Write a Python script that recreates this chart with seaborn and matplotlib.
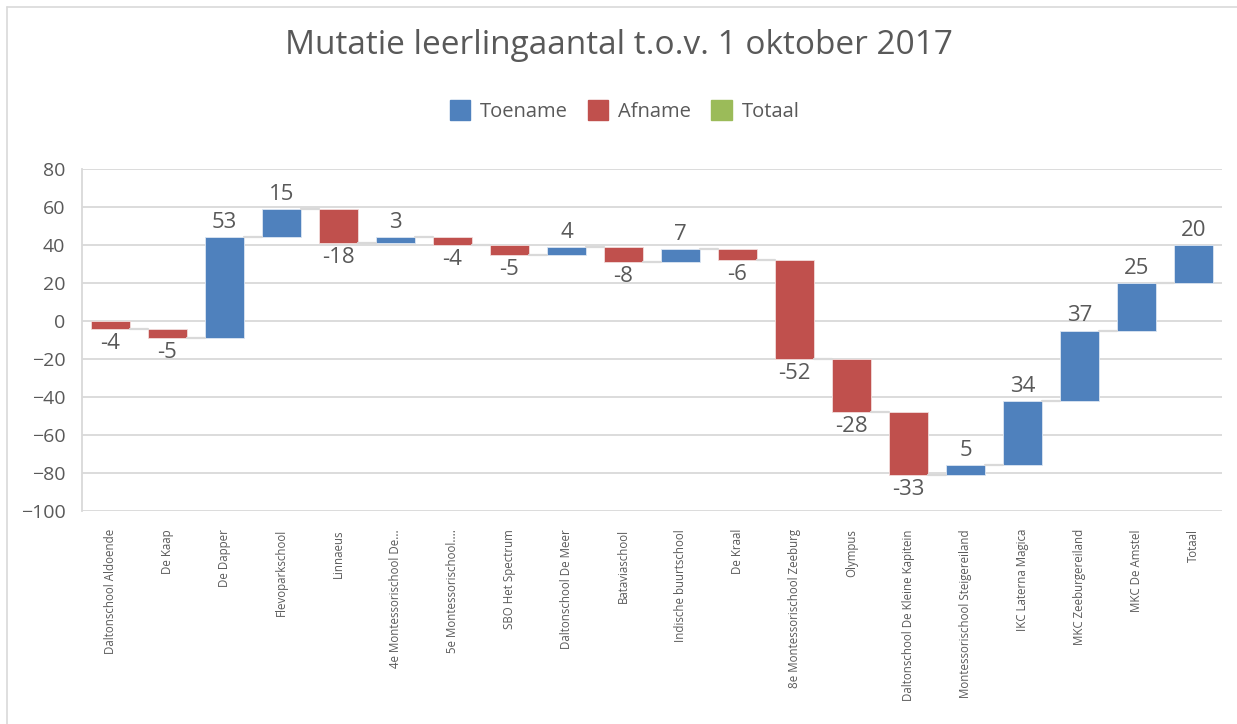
import numpy as np
import pandas as pd
import seaborn as sns
import matplotlib.pyplot as plt
from matplotlib.patches import Patch
from matplotlib.lines import Line2D

sns.set_style('white')
plt.rcParams['font.family'] = ['Open Sans', 'DejaVu Sans']

# DATA
schools = ['Daltonschool Aldoende', 'De Kaap', 'De Dapper', 'Flevoparkschool', 'Linnaeus',
           '4e Montessorischool De...', '5e Montessorischool....', 'SBO Het Spectrum',
           'Daltonschool De Meer', 'Bataviaschool', 'Indische buurtschool', 'De Kraal',
           '8e Montessorischool Zeeburg', 'Olympus', 'Daltonschool De Kleine Kapitein',
           'Montessorischool Steigereiland', 'IKC Laterna Magica', 'MKC Zeeburgereiland',
           'MKC De Amstel', 'Totaal']
mutatie = [-4, -5, 53, 15, -18, 3, -4, -5, 4, -8, 7, -6, -52, -28, -33, 5, 34, 37, 25, 20]
legend_labels = ['Toename', 'Afname', 'Totaal']

BLUE = '#4F81BD'
RED = '#C0504D'
GREEN = '#9BBB59'
TXT = '#595959'
GRID = '#D9D9D9'
BAR_W = 0.67

# running totals -> floating bars
df = pd.DataFrame({'school': schools, 'delta': mutatie})
df['end'] = df['delta'].cumsum()
df['start'] = df['end'] - df['delta']
df['low'] = df[['start', 'end']].min(axis=1)
df['height'] = df['delta'].abs()

fig = plt.figure(figsize=(12.37, 7.24), dpi=100)
ax = fig.add_axes([82 / 1237, 213 / 724, 1140 / 1237, 342 / 724])

up = df[df['delta'] > 0]
down = df[df['delta'] < 0]
sns.barplot(x=up['school'], y=up['height'], order=schools, bottom=up['low'].values,
            color=BLUE, width=BAR_W, saturation=1, edgecolor='#DCE6F2', linewidth=0.6, ax=ax)
sns.barplot(x=down['school'], y=down['height'], order=schools, bottom=down['low'].values,
            color=RED, width=BAR_W, saturation=1, edgecolor='#F2DCDB', linewidth=0.6, ax=ax)

# connector lines between bars
for i in range(len(df) - 1):
    ax.plot([i + BAR_W / 2, i + 1 - BAR_W / 2], [df['end'][i], df['end'][i]],
            color=GRID, lw=1.6, zorder=1)

# data labels
for i, row in df.iterrows():
    if row['delta'] > 0:
        ax.annotate(str(row['delta']), (i, row['low'] + row['height']), xytext=(0, 3),
                    textcoords='offset points', ha='center', va='bottom', fontsize=16, color=TXT)
    else:
        ax.annotate(str(row['delta']), (i, row['low']), xytext=(0, -3),
                    textcoords='offset points', ha='center', va='top', fontsize=16, color=TXT)

ax.set_ylim(-100, 80)
ax.set_xlim(-0.5, len(schools) - 0.5)
ax.set_yticks(np.arange(-100, 81, 20))
ax.yaxis.grid(True, color=GRID, lw=1.3)
ax.set_axisbelow(True)
ax.tick_params(axis='y', length=0, labelsize=14, labelcolor=TXT, pad=12)
ax.tick_params(axis='x', length=0, labelsize=8.3, labelcolor=TXT, pad=13)
ax.set_xticks(range(len(schools)))
ax.set_xticklabels(schools, rotation=90, va='top')
ax.set_xlabel('')
ax.set_ylabel('')
for s in ['top', 'right', 'bottom']:
    ax.spines[s].set_visible(False)
ax.spines['left'].set_color(GRID)
ax.spines['left'].set_linewidth(1.3)

fig.text(0.5, 1 - 46 / 724, 'Mutatie leerlingaantal t.o.v. 1 oktober 2017',
         ha='center', va='center', fontsize=24, color=TXT)

handles = [Patch(color=c) for c in [BLUE, RED, GREEN]]
fig.legend(handles, legend_labels, loc='center', bbox_to_anchor=(0.505, 1 - 111 / 724),
           ncol=3, frameon=False, fontsize=14.5, labelcolor=TXT, handlelength=1.0,
           handleheight=1.1, handletextpad=0.5, columnspacing=1.0)

# chart frame (left and top edge)
fig.add_artist(Line2D([7 / 1237, 7 / 1237], [0, 1 - 7 / 724], color=GRID, lw=1.2))
fig.add_artist(Line2D([7 / 1237, 1], [1 - 7 / 724, 1 - 7 / 724], color=GRID, lw=1.2))

fig.savefig('out.png', dpi=100)
